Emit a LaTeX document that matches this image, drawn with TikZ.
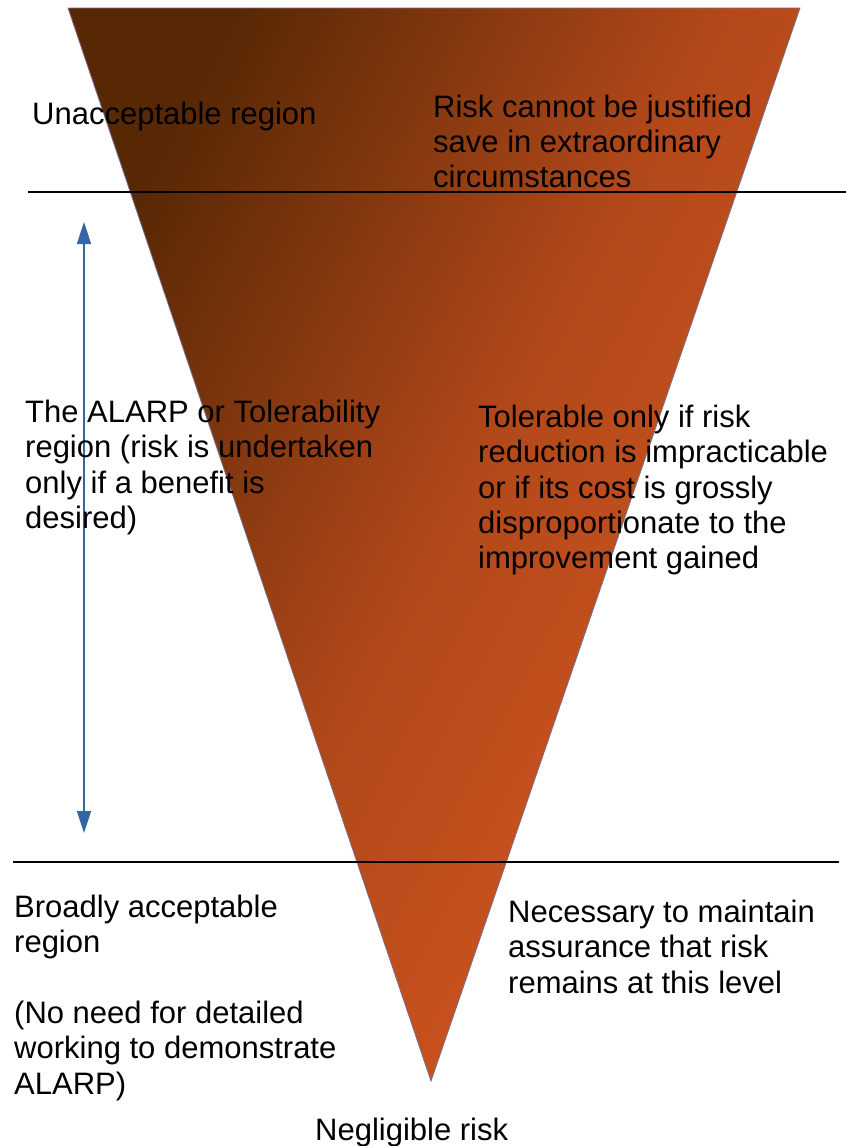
\documentclass[tikz,border=0pt]{standalone}
\usepackage{fontspec}
\setmainfont{Liberation Sans}
\usetikzlibrary{arrows.meta}
\definecolor{darkbrown}{RGB}{88,40,5}
\definecolor{midrust}{RGB}{178,72,26}
\definecolor{rust}{RGB}{214,88,33}
\definecolor{edgeblue}{RGB}{52,101,164}
\definecolor{outline}{RGB}{120,110,140}
\begin{document}
\begin{tikzpicture}[x=1pt,y=-1pt,
  lbl/.style={anchor=north west, inner sep=0pt, align=left,
    font=\fontsize{31}{35.3}\selectfont, text=black},
  divider/.style={draw=black, line width=1.2pt},
  spanarrow/.style={draw=edgeblue, line width=1.6pt,
    {Triangle[length=22pt,width=14pt]}-{Triangle[length=22pt,width=14pt]}},
  funnel/.style={left color=darkbrown, right color=rust, middle color=midrust, shading angle=62}]
\useasboundingbox (0,0) rectangle (846,1146);
% triangle
\coordinate (tl) at (68,8);
\coordinate (tr) at (800,8);
\coordinate (apex) at (431,1081);
\shade[funnel] (tl) -- (tr) -- (apex) -- cycle;
\draw[outline, line width=0.8pt, line join=miter] (tl) -- (tr) -- (apex) -- cycle;
% dividers
\coordinate (d1a) at (28,192);
\coordinate (d1b) at (846,192);
\coordinate (d2a) at (13,862);
\coordinate (d2b) at (839,862);
\draw[divider] (d1a) -- (d1b);
\draw[divider] (d2a) -- (d2b);
% span arrow
\coordinate (atop) at (84,222);
\coordinate (abot) at (84,833);
\draw[spanarrow] (atop) -- (abot);
% texts
\node[lbl] (unacc) at (32,102) {Unacceptable region};
\node[lbl] (unaccR) at (433,94.5) {Risk cannot be justified\\save in extraordinary\\circumstances};
\node[lbl] (alarp) at (25,400) {The ALARP or Tolerability\\region (risk is undertaken\\only if a benefit is\\desired)};
\node[lbl] (alarpR) at (478,405) {Tolerable only if risk\\reduction is impracticable\\or if its cost is grossly\\disproportionate to the\\improvement gained};
\node[lbl] (broad) at (14,895) {Broadly acceptable\\region\\\mbox{}\\(No need for detailed\\working to demonstrate\\ALARP)};
\node[lbl] (broadR) at (508,900) {Necessary to maintain\\assurance that risk\\remains at this level};
\node[lbl] (neg) at (315,1118) {Negligible risk};
\end{tikzpicture}
\end{document}
